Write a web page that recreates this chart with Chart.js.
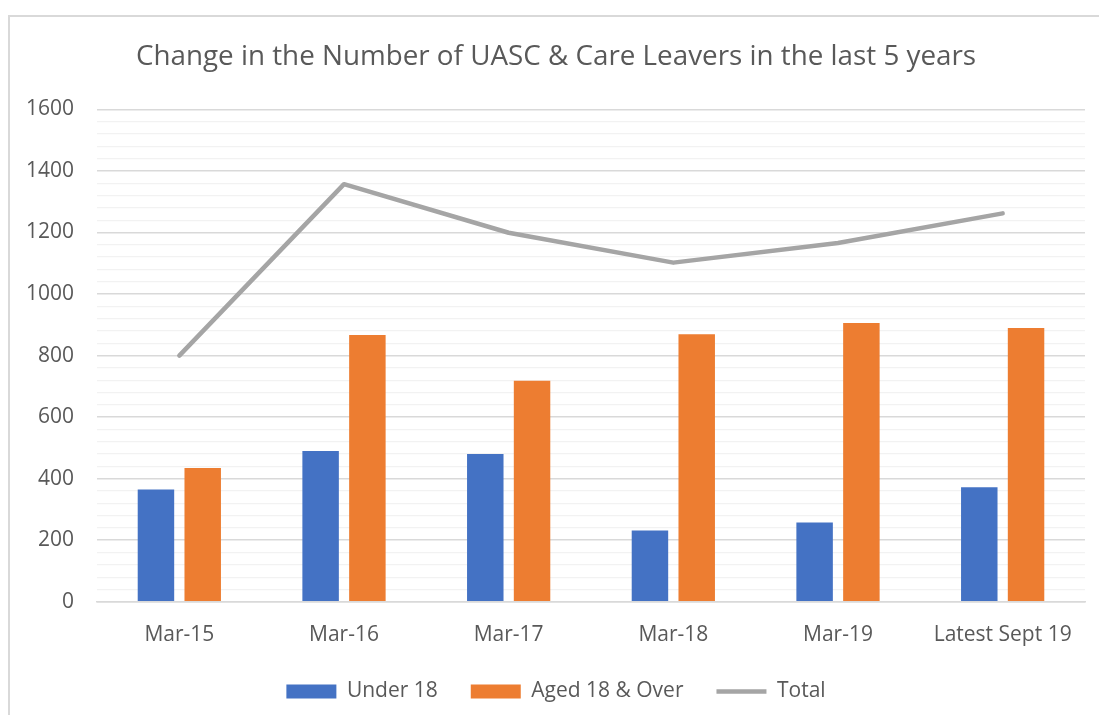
<!DOCTYPE html>
<html>
<head>
<meta charset="utf-8">
<script src="https://cdn.jsdelivr.net/npm/chart.js@4/dist/chart.umd.min.js"></script>
<style>
  body { margin: 0; background: #fff; }
  #frame {
    position: absolute; left: 8px; top: 15px; width: 1200px; height: 800px;
    border-left: 2px solid #d9d9d9; border-top: 2px solid #d9d9d9;
  }
  #chart { position: absolute; left: 0; top: 0; }
</style>
</head>
<body>
<div id="frame"></div>
<canvas id="chart" width="1099" height="715"></canvas>
<script>
const categories = ["Mar-15", "Mar-16", "Mar-17", "Mar-18", "Mar-19", "Latest Sept 19"];
const under18 = [365, 490, 480, 232, 258, 372];
const aged18Over = [435, 867, 718, 869, 906, 890];
const total = [800, 1357, 1199, 1102, 1166, 1262];

const textColor = "#595959";
const fontFamily = "'Open Sans', sans-serif";

new Chart(document.getElementById("chart"), {
  data: {
    labels: categories,
    datasets: [
      {
        type: "bar",
        label: "Under 18",
        data: under18,
        backgroundColor: "#4472C4",
        borderWidth: 0,
        pointStyle: "rect",
        categoryPercentage: 0.568,
        barPercentage: 0.78,
        order: 2
      },
      {
        type: "bar",
        label: "Aged 18 & Over",
        data: aged18Over,
        backgroundColor: "#ED7D31",
        borderWidth: 0,
        pointStyle: "rect",
        categoryPercentage: 0.568,
        barPercentage: 0.78,
        order: 2
      },
      {
        type: "line",
        label: "Total",
        data: total,
        borderColor: "#A5A5A5",
        backgroundColor: "#A5A5A5",
        borderWidth: 4.5,
        borderCapStyle: "round",
        borderJoinStyle: "round",
        pointRadius: 0,
        pointStyle: "line",
        tension: 0,
        order: 1
      }
    ]
  },
  options: {
    responsive: false,
    animation: false,
    layout: { padding: { left: 27, right: 14, top: 0, bottom: 3 } },
    plugins: {
      title: {
        display: true,
        text: "Change in the Number of UASC & Care Leavers in the last 5 years",
        color: textColor,
        font: { family: fontFamily, size: 27.8, weight: "normal" },
        padding: { top: 40.5, bottom: 35.5 }
      },
      legend: {
        position: "bottom",
        labels: {
          usePointStyle: true,
          pointStyleWidth: 50,
          boxHeight: 14,
          padding: 33,
          color: textColor,
          font: { family: fontFamily, size: 21 },
          sort: (a, b) => a.datasetIndex - b.datasetIndex
        }
      },
      tooltip: { enabled: false }
    },
    scales: {
      x: {
        afterFit: scale => { scale.height -= 21; },
        grid: { display: false, drawTicks: false },
        border: { display: true, color: "#D9D9D9", width: 1.5 },
        ticks: { color: textColor, padding: 21, font: { family: fontFamily, size: 21 } }
      },
      y: {
        min: 0,
        max: 1600,
        afterFit: scale => { scale.width = 70; },
        border: { display: false },
        grid: {
          drawTicks: false,
          color: ctx => (ctx.tick && ctx.tick.value % 200 === 0) ? "#D9D9D9" : "#F2F2F2",
          lineWidth: ctx => (ctx.tick && ctx.tick.value % 200 === 0) ? 1.5 : 1.2
        },
        ticks: {
          stepSize: 40,
          autoSkip: false,
          padding: 23,
          color: textColor,
          font: { family: fontFamily, size: 21 },
          callback: v => (v % 200 === 0 ? v : "")
        }
      }
    }
  }
});
</script>
</body>
</html>
